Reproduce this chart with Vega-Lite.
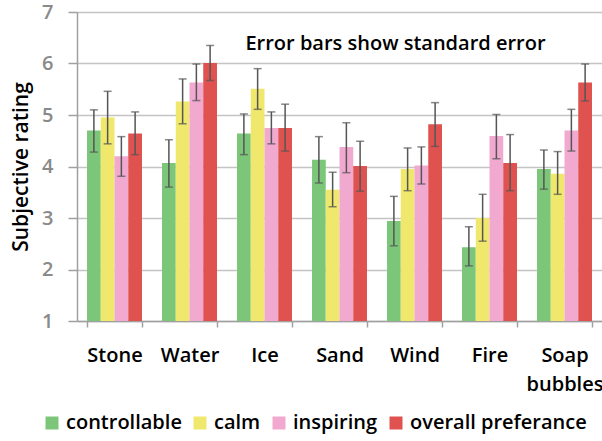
{
  "$schema": "https://vega.github.io/schema/vega-lite/v6.json",
  "width": 525,
  "height": 309,
  "autosize": {"type": "none"},
  "padding": {"left": 77, "top": 12, "right": 0, "bottom": 120},
  "background": "white",
  "config": {
    "font": "Open Sans",
    "view": {"stroke": null}
  },
  "title": {
    "text": "Error bars show standard error",
    "fontSize": 20,
    "fontWeight": 600,
    "color": "black",
    "orient": "top",
    "anchor": "middle",
    "frame": "group",
    "offset": -38,
    "baseline": "alphabetic",
    "dx": 56,
    "dy": 30
  },
  "data": {
    "values": [
      {"element": "Stone", "measure": "controllable", "value": 4.70, "lo": 4.28, "hi": 5.10},
      {"element": "Stone", "measure": "calm", "value": 4.95, "lo": 4.44, "hi": 5.46},
      {"element": "Stone", "measure": "inspiring", "value": 4.20, "lo": 3.81, "hi": 4.58},
      {"element": "Stone", "measure": "overall preferance", "value": 4.64, "lo": 4.23, "hi": 5.06},
      {"element": "Water", "measure": "controllable", "value": 4.07, "lo": 3.60, "hi": 4.52},
      {"element": "Water", "measure": "calm", "value": 5.26, "lo": 4.83, "hi": 5.70},
      {"element": "Water", "measure": "inspiring", "value": 5.63, "lo": 5.28, "hi": 5.99},
      {"element": "Water", "measure": "overall preferance", "value": 6.01, "lo": 5.67, "hi": 6.35},
      {"element": "Ice", "measure": "controllable", "value": 4.64, "lo": 4.23, "hi": 5.02},
      {"element": "Ice", "measure": "calm", "value": 5.51, "lo": 5.11, "hi": 5.90},
      {"element": "Ice", "measure": "inspiring", "value": 4.75, "lo": 4.44, "hi": 5.06},
      {"element": "Ice", "measure": "overall preferance", "value": 4.75, "lo": 4.30, "hi": 5.21},
      {"element": "Sand", "measure": "controllable", "value": 4.13, "lo": 3.68, "hi": 4.58},
      {"element": "Sand", "measure": "calm", "value": 3.55, "lo": 3.22, "hi": 3.89},
      {"element": "Sand", "measure": "inspiring", "value": 4.38, "lo": 3.88, "hi": 4.85},
      {"element": "Sand", "measure": "overall preferance", "value": 4.01, "lo": 3.52, "hi": 4.49},
      {"element": "Wind", "measure": "controllable", "value": 2.94, "lo": 2.46, "hi": 3.42},
      {"element": "Wind", "measure": "calm", "value": 3.95, "lo": 3.53, "hi": 4.36},
      {"element": "Wind", "measure": "inspiring", "value": 4.02, "lo": 3.66, "hi": 4.38},
      {"element": "Wind", "measure": "overall preferance", "value": 4.82, "lo": 4.39, "hi": 5.24},
      {"element": "Fire", "measure": "controllable", "value": 2.43, "lo": 2.07, "hi": 2.83},
      {"element": "Fire", "measure": "calm", "value": 3.00, "lo": 2.55, "hi": 3.46},
      {"element": "Fire", "measure": "inspiring", "value": 4.59, "lo": 4.15, "hi": 5.01},
      {"element": "Fire", "measure": "overall preferance", "value": 4.07, "lo": 3.53, "hi": 4.62},
      {"element": "Soap bubbles", "measure": "controllable", "value": 3.95, "lo": 3.56, "hi": 4.32},
      {"element": "Soap bubbles", "measure": "calm", "value": 3.86, "lo": 3.46, "hi": 4.29},
      {"element": "Soap bubbles", "measure": "inspiring", "value": 4.70, "lo": 4.30, "hi": 5.11},
      {"element": "Soap bubbles", "measure": "overall preferance", "value": 5.63, "lo": 5.27, "hi": 5.99}
    ]
  },
  "encoding": {
    "x": {
      "field": "element",
      "type": "nominal",
      "sort": ["Stone", "Water", "Ice", "Sand", "Wind", "Fire", "Soap bubbles"],
      "scale": {"paddingInner": 0.267, "paddingOuter": 0.1335},
      "axis": {
        "title": null,
        "labelAngle": 0,
        "labelFontSize": 20,
        "labelFontWeight": 600,
        "labelColor": "black",
        "labelPadding": 18,
        "labelLineHeight": 29,
        "labelExpr": "datum.value == 'Soap bubbles' ? ['Soap', 'bubbles'] : datum.value",
        "tickBand": "extent",
        "tickSize": 6,
        "tickColor": "#a0a0a0",
        "tickWidth": 1.5,
        "domainColor": "#a0a0a0",
        "domainWidth": 1.5
      }
    },
    "xOffset": {
      "field": "measure",
      "sort": ["controllable", "calm", "inspiring", "overall preferance"],
      "scale": {"paddingInner": 0, "paddingOuter": 0}
    }
  },
  "layer": [
    {
      "mark": {"type": "bar"},
      "encoding": {
        "y": {
          "field": "value",
          "type": "quantitative",
          "scale": {"domain": [1, 7]},
          "axis": {
            "title": "Subjective rating",
            "titleFontSize": 21,
            "titleFontWeight": 600,
            "titleColor": "black",
            "titlePadding": 10,
            "values": [1, 2, 3, 4, 5, 6, 7],
            "labelFontSize": 20,
            "labelFontWeight": 600,
            "labelColor": "#8a8a8a",
            "labelPadding": 15,
            "tickSize": 9,
            "tickColor": "#a0a0a0",
            "tickWidth": 1.5,
            "domainColor": "#a0a0a0",
            "domainWidth": 1.5,
            "gridColor": "#c4c4c4",
            "gridWidth": 1.5
          }
        },
        "y2": {"datum": 1},
        "color": {
          "field": "measure",
          "type": "nominal",
          "scale": {
            "domain": ["controllable", "calm", "inspiring", "overall preferance"],
            "range": ["#7cc67a", "#f0e86c", "#f2a9d0", "#df524f"]
          },
          "legend": {
            "title": null,
            "orient": "none",
            "legendX": -35,
            "legendY": 401,
            "direction": "horizontal",
            "symbolType": "square",
            "symbolSize": 169,
            "symbolStrokeWidth": 0,
            "labelFontSize": 20,
            "labelFontWeight": 600,
            "labelColor": "black",
            "labelOffset": 4,
            "labelLimit": 0,
            "columnPadding": 8
          }
        }
      }
    },
    {
      "mark": {"type": "rule", "color": "#555555", "strokeWidth": 1.5},
      "encoding": {
        "y": {"field": "lo", "type": "quantitative"},
        "y2": {"field": "hi"}
      }
    },
    {
      "mark": {"type": "tick", "color": "#555555", "size": 8, "thickness": 1.5},
      "encoding": {
        "y": {"field": "lo", "type": "quantitative"}
      }
    },
    {
      "mark": {"type": "tick", "color": "#555555", "size": 8, "thickness": 1.5},
      "encoding": {
        "y": {"field": "hi", "type": "quantitative"}
      }
    }
  ]
}
